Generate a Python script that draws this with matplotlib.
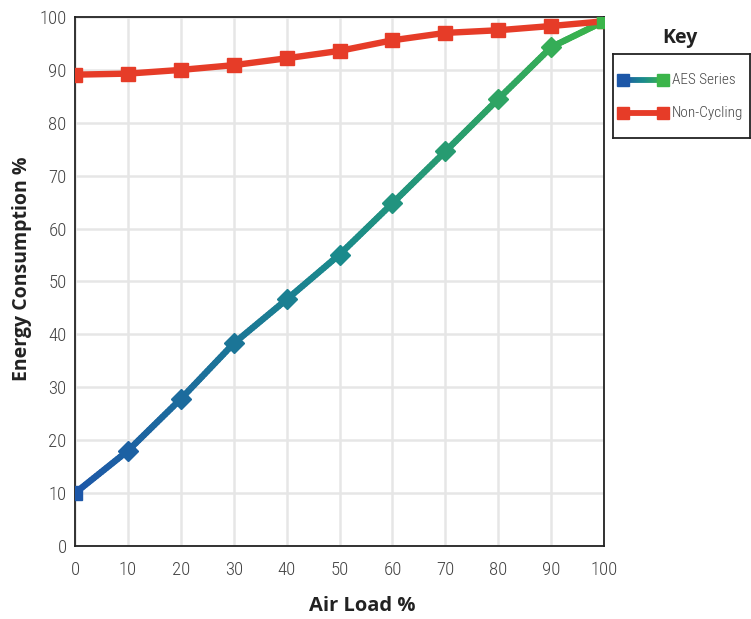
import matplotlib.pyplot as plt
import numpy as np
from matplotlib.collections import LineCollection
from matplotlib.colors import LinearSegmentedColormap

plt.rcParams['font.family'] = ['Roboto Condensed', 'DejaVu Sans']
plt.rcParams['font.weight'] = 300

air_load = [0, 10, 20, 30, 40, 50, 60, 70, 80, 90, 100]
aes_series = [10, 18, 27.8, 38.3, 46.6, 55.1, 64.8, 74.6, 84.5, 94.3, 99.2]
non_cycling = [89.1, 89.3, 90, 90.9, 92.2, 93.6, 95.6, 97, 97.5, 98.3, 99.2]

blue_green = LinearSegmentedColormap.from_list('bg', ['#1d57a8', '#1a8a8c', '#3bb54a'])
red = '#e63c28'
bold_font = ['Open Sans', 'DejaVu Sans']

fig = plt.figure(figsize=(7.51, 6.19), dpi=100)
ax = fig.add_axes([0.0999, 0.118, 0.7045, 0.8545])

# gradient line for AES
xs, ys = [], []
for i in range(len(air_load) - 1):
    t = np.linspace(0, 1, 20, endpoint=False)
    xs.extend(air_load[i] + t * (air_load[i + 1] - air_load[i]))
    ys.extend(aes_series[i] + t * (aes_series[i + 1] - aes_series[i]))
xs.append(air_load[-1])
ys.append(aes_series[-1])
xs = np.array(xs)
ys = np.array(ys)
pts = np.array([xs, ys]).T.reshape(-1, 1, 2)
segs = np.concatenate([pts[:-1], pts[1:]], axis=1)
lc = LineCollection(segs, colors=blue_green((xs[:-1] + xs[1:]) / 200), linewidths=4.6,
                    capstyle='round', zorder=3)
ax.add_collection(lc)

ax.plot(air_load, non_cycling, color=red, lw=4.6, marker='s', ms=10, zorder=4)

for i, (x, y) in enumerate(zip(air_load, aes_series)):
    m = 's' if i in (0, len(air_load) - 1) else 'D'
    size = 10 if m == 's' else 10
    ax.plot(x, y, marker=m, ms=size, color=blue_green(x / 100), zorder=5)

ax.set_xlim(0, 100)
ax.set_ylim(0, 100)
ax.set_xticks(air_load)
ax.set_yticks(range(0, 101, 10))
ax.grid(color='#e6e6e6', lw=1.8)
ax.set_axisbelow(True)
for s in ax.spines.values():
    s.set_linewidth(1.3)
    s.set_color('#222222')
ax.tick_params(length=0, labelsize=13.5, labelcolor='#444444')
ax.tick_params(axis='y', pad=6)
ax.tick_params(axis='x', pad=11)

ax.set_xlabel('Air Load %', family=bold_font, fontweight='bold', fontsize=14.5, color='#222222')
ax.set_ylabel('Energy Consumption %', family=bold_font, fontweight='bold', fontsize=14,
              color='#222222')
ax.xaxis.set_label_coords(0.543, -0.094)
ax.yaxis.set_label_coords(-0.081, 0.525)

# key box
lax = fig.add_axes([613 / 751, 1 - 138 / 619, 137 / 751, 84 / 619])
lax.set_xlim(0, 137)
lax.set_ylim(84, 0)
lax.set_xticks([])
lax.set_yticks([])
for s in lax.spines.values():
    s.set_linewidth(1.3)
    s.set_color('#222222')
lx = np.linspace(10, 50, 40)
lpts = np.array([lx, np.full_like(lx, 26)]).T.reshape(-1, 1, 2)
lsegs = np.concatenate([lpts[:-1], lpts[1:]], axis=1)
lax.add_collection(LineCollection(lsegs, colors=blue_green(np.linspace(0, 1, 39)), linewidths=4.2))
lax.plot(10, 26, 's', ms=8, color=blue_green(0.0))
lax.plot(50, 26, 's', ms=8, color=blue_green(1.0))
lax.plot([10, 50], [59, 59], color=red, lw=4.2, marker='s', ms=8)
lax.text(59, 26, 'AES Series', va='center', fontsize=11, color='#444444')
lax.text(59, 59, 'Non-Cycling', va='center', fontsize=11, color='#444444')
fig.text(680 / 751, 1 - 38 / 619, 'Key', ha='center', va='center', fontsize=14,
         fontweight='bold', family=bold_font, color='#222222')

fig.savefig('out.png', dpi=100)
